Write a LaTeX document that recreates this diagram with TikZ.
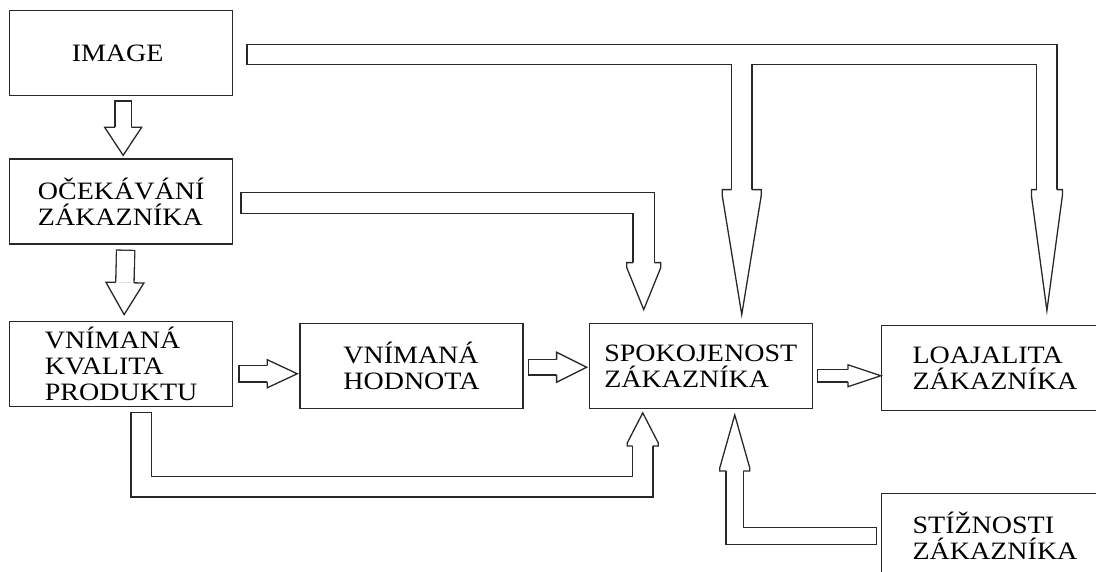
\documentclass[tikz,border=0pt]{standalone}
\usepackage{fontspec}
\newfontfamily\boxfont[FakeStretch=1.12]{Liberation Serif}
\usetikzlibrary{positioning,calc,decorations.markings}
\definecolor{linec}{RGB}{40,40,40}

\tikzset{
    box/.style={
        rectangle,
        draw=linec,
        line width=1.3pt,
        minimum width=223pt,
        minimum height=85pt,
        inner sep=0pt,
        align=left,
        font={\boxfont\fontsize{25pt}{26pt}\selectfont}
    },
    % hollow block arrow: shaft width, head width, head length, head step
    fat/.style n args={4}{
        preaction={draw=linec, line width=#1pt+2.6pt, shorten <=0pt, shorten >=#3pt},
        draw=white,
        line width=#1pt,
        shorten <=1.3pt,
        shorten >=#3pt,
        postaction={decorate, decoration={markings, mark=at position 1 with {
            \filldraw[fill=white, draw=linec, line width=1.3pt, shorten <=0pt, shorten >=0pt]
                (-#3,#1/2+0.65) -- (-#3,#2/2) -- (-#3+#4,#2/2) -- (0,0)
                -- (-#3+#4,-#2/2) -- (-#3,-#2/2) -- (-#3,-#1/2-0.65);
        }}}
    }
}

\begin{document}
\begin{tikzpicture}[x=1pt, y=-1pt]
        \useasboundingbox (0,0) rectangle (1096,571);
        \clip (0,0) rectangle (1096,571);

        \node (image) [
            box,
            anchor=north west
        ] at (9,10)
        {
            IMAGE
        };

        \node (ocek) [
            box,
            below=62pt of image
        ]
        {
            OČEKÁVÁNÍ\\
            ZÁKAZNÍKA
        };

        \node (kval) [
            box,
            below=76pt of ocek
        ]
        {
            VNÍMANÁ\\
            KVALITA\\
            PRODUKTU
        };

        \node (hod) [
            box,
            right=66pt of kval,
            yshift=-2pt
        ]
        {
            VNÍMANÁ\\
            HODNOTA
        };

        \node (spok) [
            box,
            right=65pt of hod
        ]
        {
            SPOKOJENOST\\
            ZÁKAZNÍKA
        };

        \node (loaj) [
            box,
            minimum width=227pt,
            right=68pt of spok,
            yshift=-2pt
        ]
        {
            LOAJALITA\\
            ZÁKAZNÍKA
        };

        \node (stiz) [
            box,
            minimum width=227pt,
            below=82pt of loaj
        ]
        {
            STÍŽNOSTI\\
            ZÁKAZNÍKA
        };

        \draw[fat={15}{37}{28}{0}] ($(image.south)+(2,4)$) -- ($(ocek.north)+(2,-3)$);
        \draw[fat={17}{38}{32}{0}] ($(ocek.south)+(4.5,5)$) -- ($(kval.north)+(3,-6)$);
        \draw[fat={15}{28}{30}{0}] ($(kval.east)+(5,10)$) -- ($(hod.west)+(-2,8)$);
        \draw[fat={14}{30}{30}{0}] ($(hod.east)+(4,1.5)$) -- ($(spok.west)+(-2,1.5)$);
        \draw[fat={11}{22}{33}{0}] ($(spok.east)+(4,10)$) -- ($(loaj.west)+(0,8)$);
        \draw[fat={20}{34}{47}{5}] ($(ocek.east)+(7,1.5)$) -| ($(spok.north)+(-57,-13)$);
        \draw[fat={19}{31}{121}{6}] ($(image.east)+(13,1.5)$) coordinate (bar)
            -| ($(loaj.north west)+(166,-14)$);
        \draw[fat={19}{39}{125}{6}, shorten <=0pt] ($(spok.north |- bar)+(41,9.5)$)
            -- ($(spok.north)+(41,-8)$);
        \draw[fat={19}{31}{33}{3}] ($(kval.south)+(20,5)$) |- ($(spok.south)+(-58,78)$)
            -- ($(spok.south)+(-58,4)$);
        \draw[fat={16}{30}{56}{3}] ($(stiz.west)+(-4,0)$) -| ($(spok.south)+(34,6)$);
    \end{tikzpicture}
\end{document}
